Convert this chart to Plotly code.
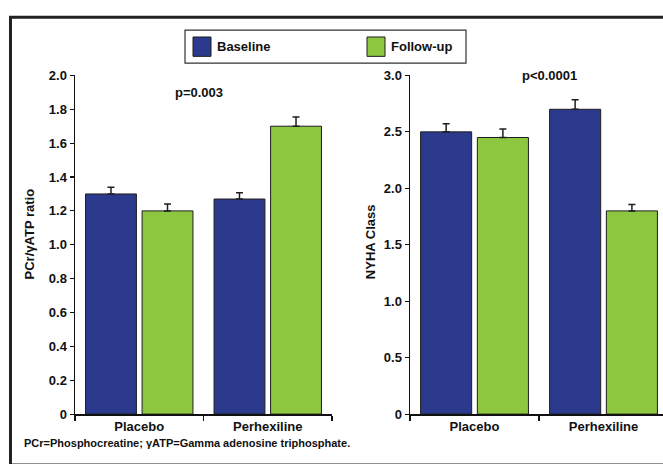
import plotly.graph_objects as go

W, H = 663, 464

categories = ["Placebo", "Perhexiline"]
pcr_baseline = [1.30, 1.27]
pcr_followup = [1.20, 1.70]
pcr_baseline_err = [0.04, 0.037]
pcr_followup_err = [0.04, 0.055]
nyha_baseline = [2.50, 2.70]
nyha_followup = [2.45, 1.80]
nyha_baseline_err = [0.072, 0.085]
nyha_followup_err = [0.076, 0.057]

pcr_ticks = [0, 0.2, 0.4, 0.6, 0.8, 1.0, 1.2, 1.4, 1.6, 1.8, 2.0]
pcr_ticktext = ["0", "0.2", "0.4", "0.6", "0.8", "1.0", "1.2", "1.4", "1.6", "1.8", "2.0"]
nyha_ticks = [0, 0.5, 1.0, 1.5, 2.0, 2.5, 3.0]
nyha_ticktext = ["0", "0.5", "1.0", "1.5", "2.0", "2.5", "3.0"]

BLUE = "#2C3A8E"
GREEN = "#8DC63F"
EDGE = "#1E1E1E"
FONT = "Liberation Sans, Arial, Helvetica, sans-serif"


def px(x):
    return x / W


def py(y):
    return 1 - y / H


def bar(x, y, err, color, xa, ya, name):
    return go.Bar(
        x=x, y=y, name=name, marker=dict(color=color, line=dict(color=EDGE, width=1)),
        error_y=dict(type="data", array=err, arrayminus=[0] * len(err), symmetric=False,
                     color=EDGE, thickness=1.5, width=3.5),
        xaxis=xa, yaxis=ya, showlegend=False, hoverinfo="skip",
    )


fig = go.Figure()
fig.add_trace(bar(categories, pcr_baseline, pcr_baseline_err, BLUE, "x", "y", "Baseline"))
fig.add_trace(bar(categories, pcr_followup, pcr_followup_err, GREEN, "x", "y", "Follow-up"))
fig.add_trace(bar(categories, nyha_baseline, nyha_baseline_err, BLUE, "x2", "y2", "Baseline"))
fig.add_trace(bar(categories, nyha_followup, nyha_followup_err, GREEN, "x2", "y2", "Follow-up"))

tickfont = dict(family=FONT, size=13, color="#111", weight="bold")
ydom = [py(420.7), py(70.7)]

xcommon = dict(type="category", tickson="boundaries", ticks="outside", ticklen=5,
               tickwidth=1.2, tickcolor="#111", showline=True, linecolor="#111",
               linewidth=1.5, tickfont=tickfont, showgrid=False, zeroline=False)
ycommon = dict(ticks="outside", ticklen=4, tickwidth=1.2, tickcolor="#111",
               showline=True, linecolor="#111", linewidth=1.5, tickfont=tickfont,
               showgrid=False, zeroline=False)

fig.update_layout(
    width=W, height=H,
    margin=dict(l=0, r=0, t=0, b=0),
    paper_bgcolor="white", plot_bgcolor="white",
    barmode="group", bargap=0.12, bargroupgap=0.1,
    xaxis=dict(domain=[px(75), px(332)], range=[-0.5, 1.5], anchor="y", **xcommon),
    yaxis=dict(domain=ydom, range=[0, 2.0], tickvals=pcr_ticks, ticktext=pcr_ticktext,
               anchor="x", **ycommon),
    xaxis2=dict(domain=[px(410), 1.0], range=[-0.5, 1.461], anchor="y2", **xcommon),
    yaxis2=dict(domain=ydom, range=[0, 3.0], tickvals=nyha_ticks, ticktext=nyha_ticktext,
                anchor="x2", **ycommon),
    showlegend=False,
)

txt = dict(family=FONT, size=13, color="#111", weight="bold")
ann = []
ann.append(dict(text="p=0.003", x=px(199), y=py(88), xref="paper", yref="paper",
                showarrow=False, font=txt, xanchor="center", yanchor="middle"))
ann.append(dict(text="p<0.0001", x=px(549), y=py(71), xref="paper", yref="paper",
                showarrow=False, font=txt, xanchor="center", yanchor="middle"))
ann.append(dict(text="PCr/γATP ratio", x=px(29), y=py(234), xref="paper", yref="paper",
                showarrow=False, font=txt, textangle=-90, xanchor="center", yanchor="middle"))
ann.append(dict(text="NYHA Class", x=px(370), y=py(243), xref="paper", yref="paper",
                showarrow=False, font=txt, textangle=-90, xanchor="center", yanchor="middle"))
ann.append(dict(text="PCr=Phosphocreatine; γATP=Gamma adenosine triphosphate.",
                x=px(22), y=py(451), xref="paper", yref="paper", showarrow=False,
                font=dict(family=FONT, size=11, color="#111", weight="bold"),
                xanchor="left", yanchor="middle"))
# legend labels
ann.append(dict(text="Baseline", x=px(215), y=py(41), xref="paper", yref="paper",
                showarrow=False, font=txt, xanchor="left", yanchor="middle"))
ann.append(dict(text="Follow-up", x=px(389), y=py(41), xref="paper", yref="paper",
                showarrow=False, font=txt, xanchor="left", yanchor="middle"))
fig.update_layout(annotations=ann)

shapes = []
# outer frame
shapes.append(dict(type="rect", xref="paper", yref="paper", x0=px(10.5), x1=1.02,
                   y0=-0.02, y1=py(10.5), line=dict(color="#222", width=3),
                   fillcolor="rgba(0,0,0,0)"))
# legend box and swatches
shapes.append(dict(type="rect", xref="paper", yref="paper", x0=px(185), x1=px(466),
                   y0=py(58), y1=py(24), line=dict(color="#333", width=1.2),
                   fillcolor="white"))
shapes.append(dict(type="rect", xref="paper", yref="paper", x0=px(193), x1=px(211),
                   y0=py(51), y1=py(31), line=dict(color=EDGE, width=1),
                   fillcolor=BLUE))
shapes.append(dict(type="rect", xref="paper", yref="paper", x0=px(367), x1=px(385),
                   y0=py(51), y1=py(31), line=dict(color=EDGE, width=1),
                   fillcolor=GREEN))
fig.update_layout(shapes=shapes)

reset_css = (
    "var s=document.createElement('style');"
    "s.textContent='html,body{margin:0!important;padding:0!important;overflow:hidden;"
    "width:663px;height:464px;}';"
    "document.head.appendChild(s);"
)
fig.write_html("out.html", config={"displayModeBar": False, "staticPlot": True},
               post_script=reset_css)
